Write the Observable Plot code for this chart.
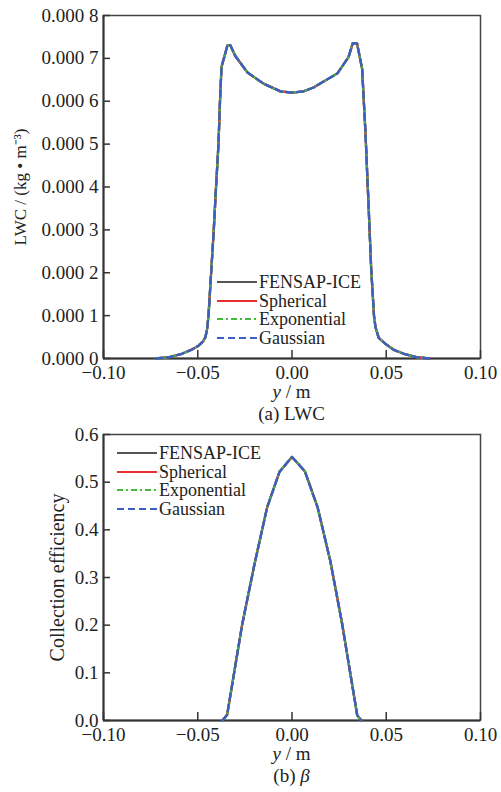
<!DOCTYPE html>
<html>
<head>
<meta charset="utf-8">
<script src="https://cdn.jsdelivr.net/npm/d3@7"></script>
<script src="https://cdn.jsdelivr.net/npm/@observablehq/plot@0.6"></script>
<style>
  body { margin: 0; background: #fff; font-family: "Liberation Serif", "DejaVu Serif", serif; color: #222; }
  #page { position: relative; width: 501px; }
  .xl { margin-left: 103px; width: 377px; text-align: center; font-size: 19px; line-height: 20px; height: 20px; }
  .cap { margin-left: 103px; width: 377px; text-align: center; font-size: 19px; line-height: 24px; height: 24px; }
  .legend { position: absolute; font-size: 18px; }
  .legend .row { display: flex; align-items: center; height: 18.5px; line-height: 18.5px; }
  .legend svg { display: block; margin-right: 2px; }
  svg { display: block; }
</style>
</head>
<body>
<div id="page"></div>
<script>
// ---- data ----
const seriesNames = ["FENSAP-ICE", "Spherical", "Exponential", "Gaussian"];
const seriesColors = ["#555555", "#e8302f", "#45b93c", "#3a5fc4"];
const seriesDashes = [null, null, "6,3,2,3", "7,4"];

const xTicks = [-0.1, -0.05, 0, 0.05, 0.1];
const xTickLabels = ["\u22120.10", "\u22120.05", "0.00", "0.05", "0.10"];

const lwcTicks = [0, 0.0001, 0.0002, 0.0003, 0.0004, 0.0005, 0.0006, 0.0007, 0.0008];
const lwcTickLabels = ["0.000 0", "0.000 1", "0.000 2", "0.000 3", "0.000 4", "0.000 5", "0.000 6", "0.000 7", "0.000 8"];

const betaTicks = [0, 0.1, 0.2, 0.3, 0.4, 0.5, 0.6];
const betaTickLabels = ["0.0", "0.1", "0.2", "0.3", "0.4", "0.5", "0.6"];

// LWC profile (all four models coincide)
const lwcPos = [-0.0724, -0.065, -0.059, -0.0535, -0.0496, -0.0472, -0.0459, -0.045, -0.0443, -0.0429, -0.0415, -0.0403, -0.039, -0.0382, -0.0374, -0.0342, -0.0328, -0.030, -0.0236, -0.0151, -0.0061, 0,
  0.0061, 0.0114, 0.0241, 0.030, 0.0322, 0.0345, 0.0372, 0.0381, 0.039, 0.0399, 0.0405, 0.042, 0.0435, 0.0443, 0.046, 0.0496, 0.054, 0.060, 0.066, 0.073];
const lwcVal = [0, 0.000003, 0.00001, 0.00002, 0.00003, 0.00004, 0.00005, 0.00007, 0.0001, 0.0002, 0.0003, 0.0004, 0.0005, 0.0006, 0.00068, 0.000731, 0.000731, 0.000705, 0.000667, 0.000641, 0.000623, 0.00062,
  0.000623, 0.000632, 0.000665, 0.000703, 0.000735, 0.000735, 0.000676, 0.0006, 0.000525, 0.00043, 0.00037, 0.00021, 0.0001, 0.000073, 0.000048, 0.000034, 0.00002, 0.00001, 0.000003, 0];

// Collection efficiency profile
const betaPos = [-0.0369, -0.0344, -0.0265, -0.0198, -0.0132, -0.0066, 0, 0.0068, 0.0136, 0.0203, 0.0265, 0.0346, 0.0368];
const betaVal = [0, 0.012, 0.2, 0.33, 0.447, 0.522, 0.553, 0.523, 0.447, 0.335, 0.205, 0.011, 0];

// ---- build ----
const lwcData = lwcPos.map((p, i) => ({pos: p, val: lwcVal[i]}));
const betaData = betaPos.map((p, i) => ({pos: p, val: betaVal[i]}));

const FONT = "Liberation Serif";

function chart({data, yTicks, yTickLabels, yDomain, height, marginTop, yLabel, labelDx, labelSize}) {
  const frameH = height - marginTop - 24;
  const frameW = 501 - 103 - 21;
  const lineMarks = seriesNames.map((name, k) =>
    Plot.line(data, {x: "pos", y: "val", stroke: seriesColors[k], strokeWidth: 2.3,
      strokeDasharray: seriesDashes[k] || undefined}));
  return Plot.plot({
    width: 501, height, marginTop, marginBottom: 24, marginLeft: 103, marginRight: 21,
    style: {fontFamily: FONT, fontSize: "19px", color: "#222", background: "white", overflow: "visible"},
    x: {domain: [-0.1, 0.1]},
    y: {domain: yDomain},
    marks: [
      Plot.frame({stroke: "#444", strokeWidth: 1.5}),
      Plot.ruleX([-0.1], {stroke: "#333", strokeWidth: 2}),
      Plot.ruleY([0], {stroke: "#333", strokeWidth: 2}),
      Plot.tickX(xTicks, {x: d => d, insetTop: frameH - 8, stroke: "#333", strokeWidth: 1.5}),
      Plot.tickY(yTicks, {y: d => d, insetRight: frameW - 7, stroke: "#333", strokeWidth: 1.5}),
      Plot.axisX(xTicks, {tickSize: 0, tickPadding: 7, label: null, fontSize: 19,
        tickFormat: d => xTickLabels[xTicks.indexOf(d)]}),
      Plot.axisY(yTicks, {tickSize: 0, tickPadding: 5, label: null, fontSize: 19,
        tickFormat: d => yTickLabels[yTicks.indexOf(d)]}),
      Plot.text([yLabel], {text: d => d, frameAnchor: "left", textAnchor: "middle", lineAnchor: "middle",
        rotate: -90, dx: labelDx, fontSize: labelSize}),
      ...lineMarks
    ]
  });
}

function legend(left, top) {
  const div = document.createElement("div");
  div.className = "legend";
  div.style.left = left + "px";
  div.style.top = top + "px";
  seriesNames.forEach((name, k) => {
    const row = document.createElement("div");
    row.className = "row";
    const dash = seriesDashes[k] ? ` stroke-dasharray="${seriesDashes[k]}"` : "";
    row.innerHTML = `<svg width="40" height="18"><line x1="0" x2="40" y1="9" y2="9" stroke="${seriesColors[k]}" stroke-width="2"${dash}/></svg><span>${name}</span>`;
    div.appendChild(row);
  });
  return div;
}

const page = document.getElementById("page");

page.appendChild(chart({data: lwcData, yTicks: lwcTicks, yTickLabels: lwcTickLabels, yDomain: [0, 0.0008],
  height: 382, marginTop: 15, yLabel: "LWC / (kg \u2022 m\u207B\u00B3)", labelDx: -83, labelSize: 17}));
const xl1 = document.createElement("div"); xl1.className = "xl"; xl1.innerHTML = "<i>y</i> / m"; page.appendChild(xl1);
const c1 = document.createElement("div"); c1.className = "cap"; c1.textContent = "(a) LWC"; page.appendChild(c1);

page.appendChild(chart({data: betaData, yTicks: betaTicks, yTickLabels: betaTickLabels, yDomain: [0, 0.6],
  height: 318, marginTop: 8, yLabel: "Collection efficiency", labelDx: -46, labelSize: 20}));
const xl2 = document.createElement("div"); xl2.className = "xl"; xl2.innerHTML = "<i>y</i> / m"; page.appendChild(xl2);
const c2 = document.createElement("div"); c2.className = "cap"; c2.innerHTML = "(b) <i>\u03B2</i>"; page.appendChild(c2);

page.appendChild(legend(217, 273));
page.appendChild(legend(117, 444));
</script>
</body>
</html>
